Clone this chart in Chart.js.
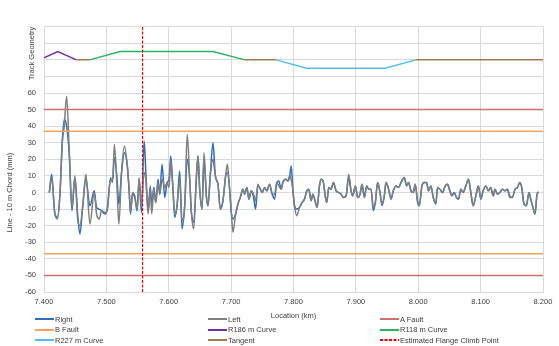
<!DOCTYPE html>
<html>
<head>
<meta charset="utf-8">
<title>Line - 10 m Chord</title>
<script src="https://cdn.jsdelivr.net/npm/chart.js@4.4.1/dist/chart.umd.min.js"></script>
<style>
  body { margin: 0; background: #fff; font-family: 'Liberation Sans', Arial, sans-serif; }
  #wrap { position: relative; width: 559px; height: 346px; }
  #legend-wrapper { position: absolute; left: 35px; top: 314px; display: grid; grid-template-columns: 173px 172px 170px; font-size: 7.5px; color: #404040; }
  .legend-item { display: flex; align-items: center; height: 10.5px; white-space: nowrap; }
  .legend-item svg { margin-right: 1px; }
</style>
</head>
<body>
<div id="wrap">
  <canvas id="chart" width="559" height="346"></canvas>
  <div id="legend-wrapper"></div>
</div>
<script>
// Location (km) and lateral line values (mm)
const locationKm = [
  7.4085, 7.4123, 7.4171, 7.4213, 7.4256, 7.4293, 7.4325, 7.4363, 7.4405, 7.4448,
  7.4496, 7.4539, 7.4576, 7.4619, 7.4672, 7.4736, 7.4805, 7.4843, 7.4885, 7.4923,
  7.4976, 7.5013, 7.5067, 7.5099, 7.5128, 7.5168, 7.5200, 7.5243, 7.5288, 7.5333,
  7.5365, 7.5387, 7.5419, 7.5456, 7.5493, 7.5525, 7.5563, 7.5605, 7.5632, 7.5669,
  7.5704, 7.5728, 7.5760, 7.5792, 7.5829, 7.5856, 7.5893, 7.5936, 7.5973, 7.6005,
  7.6032, 7.6069, 7.6096, 7.6133, 7.6176, 7.6213, 7.6256, 7.6296, 7.6336, 7.6363,
  7.6400, 7.6443, 7.6469, 7.6496, 7.6533, 7.6565, 7.6603, 7.6629, 7.6667, 7.6709,
  7.6747, 7.6789, 7.6827, 7.6869, 7.6912, 7.6939, 7.6976, 7.7003, 7.7029, 7.7072,
  7.7109, 7.7147, 7.7189, 7.7216, 7.7253, 7.7285, 7.7323, 7.7360, 7.7392, 7.7429,
  7.7456, 7.7499, 7.7536, 7.7573, 7.7616, 7.7659, 7.7696, 7.7733, 7.7765, 7.7803,
  7.7829, 7.7872, 7.7909, 7.7936, 7.7963, 7.7989, 7.8016, 7.8053, 7.8096, 7.8139,
  7.8176, 7.8213, 7.8245, 7.8283, 7.8309, 7.8352, 7.8379, 7.8416, 7.8443, 7.8480,
  7.8512, 7.8533, 7.8565, 7.8603, 7.8640, 7.8683, 7.8725, 7.8763, 7.8800, 7.8843,
  7.8885, 7.8923, 7.8949, 7.8992, 7.9029, 7.9067, 7.9099, 7.9136, 7.9173, 7.9205,
  7.9243, 7.9280, 7.9312, 7.9349, 7.9387, 7.9419, 7.9456, 7.9483, 7.9525, 7.9563,
  7.9600, 7.9643, 7.9685, 7.9723, 7.9776, 7.9813, 7.9845, 7.9883, 7.9920, 7.9952,
  7.9989, 8.0016, 8.0059, 8.0096, 8.0133, 8.0165, 8.0203, 8.0240, 8.0283, 8.0309,
  8.0347, 8.0389, 8.0432, 8.0469, 8.0507, 8.0539, 8.0576, 8.0613, 8.0645, 8.0683,
  8.0720, 8.0763, 8.0805, 8.0843, 8.0880, 8.0923, 8.0965, 8.1003, 8.1040, 8.1083,
  8.1125, 8.1163, 8.1200, 8.1232, 8.1269, 8.1307, 8.1349, 8.1392, 8.1429, 8.1467,
  8.1509, 8.1552, 8.1589, 8.1627, 8.1659, 8.1696, 8.1733, 8.1776, 8.1803, 8.1840,
  8.1872, 8.1909, 8.1936
];
const rightValues = [
  0, 11, -12, -15, -1, 31, 44, 40, 23, -11,
  9, -13, -25, -9, 8, -8, 1, -9, -10, -11,
  -13, -10, 8, 7, 21, 10, -7, 12, 24, 17,
  1, -13, -1, -3, -11, 7, -12, 31, 13, -11,
  4, -8, 3, -6, 8, -1, 17, -3, 6, 8,
  22, 1, -15, -8, 13, -22, -8, 20, 8, -12,
  -18, 8, 22, 2, -10, 20, -2, -8, 11, 30,
  10, 5, -10, -5, 10, 12, 2, -12, -16, -13,
  -7, -3, 2, -1, 3, -4, 1, -3, -10, 4,
  3, 0, 3, 1, 5, -1, -4, 6, 7, 2,
  6, 8, 7, 9, 16, 2, -8, -10, -9, -6,
  -4, 1, 2, -5, -1, -6, -9, 4, 8, 6,
  -3, -6, 3, 2, 6, 1, 0, -1, -3, -2,
  9, 1, -2, 4, -3, -1, 5, -3, 4, 2,
  2, -11, -6, 6, 0, -8, -2, 6, 2, -4,
  1, 4, 3, 6, 9, 4, 6, 1, 0, 5,
  -6, -8, 4, 6, 6, 1, 4, -3, -7, 3,
  2, 0, 4, 5, 1, -2, 0, -3, -4, 2,
  0, 4, 8, 0, -8, -2, 4, -4, 1, 4,
  1, 3, -2, 2, -1, 0, 2, 1, 2, -2,
  -3, 2, 3, 6, 3, -7, -8, 0, -4, -9,
  -13, 0, 0
];
const leftValues = [
  0, 9, -12, -16, -1, 30, 40, 58, 25, -9,
  10, -16, -20, -9, 11, -19, 0, -13, -16, -11,
  -12, -11, 9, 6, 29, 5, -19, 12, 28, 17,
  2, -12, 0, -2, -10, 9, -8, 12, 8, -13,
  2, -13, 3, -6, 6, -1, 8, 3, 6, 3,
  19, 1, -13, -8, 8, -17, -8, 35, 8, -12,
  -22, 10, 22, 2, -10, 24, -2, -8, 11, 20,
  10, 5, -10, -5, 10, 17, 2, -12, -24, -13,
  -7, -3, 2, -1, 3, -4, 1, -1, -5, 5,
  3, 0, 3, 1, 5, -1, -1, 6, 4, 2,
  6, 8, 7, 10, 8, 2, -8, -14, -9, -6,
  -4, 1, 2, -5, -1, -6, -9, 4, 8, 6,
  -3, -6, 3, 2, 6, 1, 0, -1, -3, -2,
  11, 1, -2, 4, -3, -1, 5, -3, 4, 2,
  2, -9, -6, 6, 0, -7, -2, 6, 2, -4,
  1, 4, 3, 6, 9, 4, 6, 1, 0, 5,
  -5, -8, 4, 6, 6, 1, 4, -3, -6, 3,
  2, 0, 4, 5, 1, -2, 0, -3, -4, 2,
  0, 4, 8, 0, -8, -2, 4, -4, 1, 4,
  1, 3, -2, 2, -1, 0, 2, 1, 2, -3,
  -3, 2, 3, 6, 3, -7, -8, 0, -4, -9,
  -13, 0, 0
];

// fault limits (mm)
const aFaultLevels = [50, -50];
const bFaultLevels = [37, -37];
const flangeClimbKm = 7.558;

// track geometry panel
const r186Km = [7.400, 7.422, 7.452];
const r186Val = [0.13, 0.5, 0];
const r118Km = [7.473, 7.522, 7.671, 7.722];
const r118Val = [0, 0.5, 0.5, 0];
const r227Km = [7.772, 7.821, 7.947, 7.996];
const r227Val = [0, -0.5, -0.5, 0];
const tangentRuns = [[7.452, 7.473], [7.722, 7.772], [7.996, 8.200]];

const gridColor = '#d9d9d9';
Chart.defaults.font.family = "'Liberation Sans', Arial, sans-serif";
Chart.defaults.font.size = 7.5;
Chart.defaults.color = '#404040';

const pts = (xs, ys) => xs.map((x, i) => ({x: x, y: ys[i]}));

const tangentData = [];
tangentRuns.forEach((run, i) => {
    if (i > 0) tangentData.push({x: (run[0] + tangentRuns[i - 1][1]) / 2, y: null});
    tangentData.push({x: run[0], y: 0}, {x: run[1], y: 0});
});

const hline = (level) => [{x: 7.4, y: level}, {x: 8.2, y: level}];

const datasets = [
    {label: 'Right', data: pts(locationKm, rightValues), borderColor: '#2E6FC0', yAxisID: 'y', cubicInterpolationMode: 'monotone'},
    {label: 'Left', data: pts(locationKm, leftValues), borderColor: '#7F7F7F', yAxisID: 'y', cubicInterpolationMode: 'monotone'},
    {label: 'A Fault', data: hline(aFaultLevels[0]), borderColor: '#D0706E', yAxisID: 'y'},
    {label: 'A Fault', data: hline(aFaultLevels[1]), borderColor: '#D0706E', yAxisID: 'y', noLegend: true},
    {label: 'B Fault', data: hline(bFaultLevels[0]), borderColor: '#F5A45E', yAxisID: 'y'},
    {label: 'B Fault', data: hline(bFaultLevels[1]), borderColor: '#F5A45E', yAxisID: 'y', noLegend: true},
    {label: 'R186 m Curve', data: pts(r186Km, r186Val), borderColor: '#7030A0', yAxisID: 'yTrack'},
    {label: 'R118 m Curve', data: pts(r118Km, r118Val), borderColor: '#2DB35E', yAxisID: 'yTrack'},
    {label: 'R227 m Curve', data: pts(r227Km, r227Val), borderColor: '#52BDF0', yAxisID: 'yTrack'},
    {label: 'Tangent', data: tangentData, borderColor: '#A07A52', yAxisID: 'yTrack'},
    {label: 'Estimated Flange Climb Point', data: [{x: flangeClimbKm, y: -60}, {x: flangeClimbKm, y: 60}], borderColor: '#FF0000', borderDash: [3, 1.5], borderWidth: 1.2, yAxisID: 'y'},
    {label: 'Estimated Flange Climb Point', data: [{x: flangeClimbKm, y: -2}, {x: flangeClimbKm, y: 2}], borderColor: '#FF0000', borderDash: [3, 1.5], borderWidth: 1.2, yAxisID: 'yTrack', noLegend: true}
];
// later series sit on top, like the spreadsheet
datasets.forEach((d, i) => {
    d.order = datasets.length - i;
    d.pointRadius = 0;
    d.fill = false;
    if (!d.borderWidth) d.borderWidth = 1.5;
});

const config = {
    type: 'line',
    data: {datasets: datasets},
    options: {
        responsive: false,
        animation: false,
        layout: {padding: {top: 26.7, right: 16, bottom: 26, left: 0}},
        plugins: {legend: {display: false}, tooltip: {enabled: false}},
        scales: {
            x: {
                type: 'linear', min: 7.4, max: 8.2,
                ticks: {stepSize: 0.1, padding: 5, maxRotation: 0, autoSkip: false, callback: v => v.toFixed(3)},
                grid: {color: gridColor, drawTicks: false},
                border: {color: gridColor},
                title: {display: true, text: 'Location (km)', padding: {top: 0, bottom: 0}}
            },
            y: {
                stack: 'panels', stackWeight: 3,
                min: -60, max: 60,
                ticks: {stepSize: 10, padding: 8, autoSkip: false},
                grid: {color: gridColor, drawTicks: false},
                border: {color: gridColor},
                title: {display: true, text: 'Line - 10 m Chord (mm)', padding: {top: 5.5, bottom: 0}},
                afterFit: s => { s.width = 44; }
            },
            yTrack: {
                stack: 'panels', stackWeight: 1,
                position: 'left',
                min: -2, max: 2,
                ticks: {display: false, stepSize: 1},
                grid: {color: gridColor, drawTicks: false},
                border: {color: gridColor},
                title: {display: true, text: 'Track Geometry', align: 'end', padding: {top: 27, bottom: 0}},
                afterFit: s => { s.width = 44; }
            }
        }
    }
};

const myChart = new Chart(document.getElementById('chart'), config);

// html legend, three columns
const legendContainer = document.getElementById('legend-wrapper');
datasets.filter(d => !d.noLegend).forEach(d => {
    const item = document.createElement('div');
    item.classList.add('legend-item');
    const dash = d.borderDash ? ' stroke-dasharray="3,1.5"' : '';
    item.innerHTML = '<svg width="19" height="4"><line x1="0" y1="2" x2="19" y2="2" stroke="' + d.borderColor + '" stroke-width="2"' + dash + '/></svg>';
    const text = document.createElement('span');
    text.textContent = d.label;
    item.appendChild(text);
    legendContainer.appendChild(item);
});
</script>
</body>
</html>
